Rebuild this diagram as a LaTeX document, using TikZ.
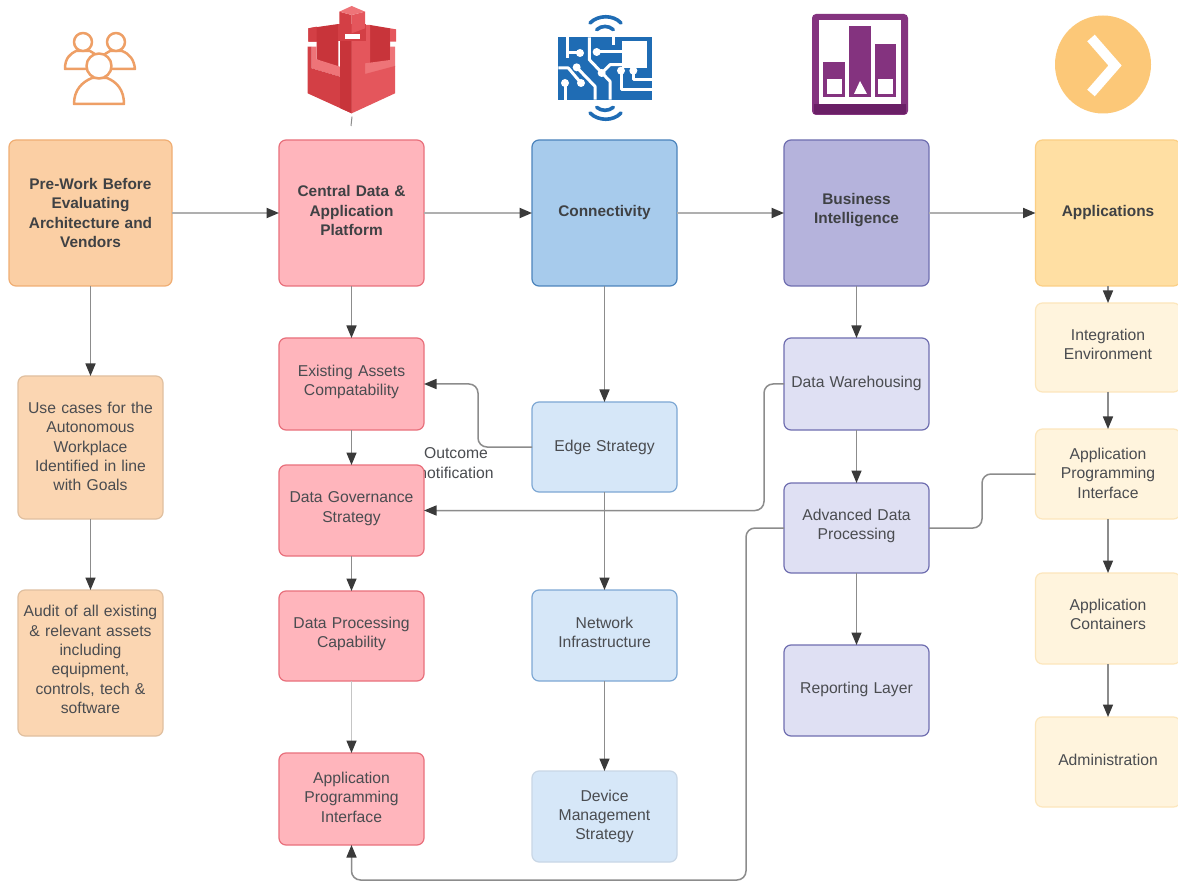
\documentclass[tikz,border=0pt]{standalone}
\usepackage{fontspec}
\setmainfont{Liberation Sans}
\usetikzlibrary{arrows.meta}
\definecolor{ink}{HTML}{4A4C50}
\definecolor{lineg}{HTML}{8C8C8C}
\definecolor{tipg}{HTML}{3A3A3A}
\tikzset{
  box/.style={draw,rounded corners=7pt,line width=1.2pt,align=center,text=ink,inner sep=2pt,outer sep=0pt,
     font=\fontsize{15.7}{19.4}\selectfont,minimum width=145pt,text width=138pt},
  head/.style={box,font=\fontsize{15.4}{19.4}\selectfont\bfseries,text=ink!85!black},
  up/.style={execute at end node={\par\nointerlineskip\vbox to #1pt{}}},
  orangeh/.style={head,fill=orangeF,draw=orangeD},
  orangel/.style={box,fill=orangeL,draw=orangeM},
  redbox/.style={box,fill=redF,draw=redD},
  redh/.style={head,fill=redF,draw=redD},
  blueh/.style={head,fill=blueF,draw=blueD},
  bluel/.style={box,fill=blueL,draw=blueM},
  purpleh/.style={head,fill=purpF,draw=purpD},
  purplel/.style={box,fill=purpL,draw=purpD},
  yellowh/.style={head,fill=yelF,draw=yelD},
  yellowl/.style={box,fill=yelL,draw=yelM},
  conn/.style={draw=lineg,line width=1.5pt},
  arr/.style={conn,-{Triangle[length=12.5pt,width=10pt,color=tipg]}},
  flow/.style={arr,draw=lineg!70,line width=2pt},
  elbow/.style={rounded corners=9pt},
  trace/.style={draw=white,line width=3pt,line join=round},
  tdot/.style={fill=white,draw=none},
  person/.style={draw=peopleC,line width=2.5pt,line join=round,fill=white},
}
\definecolor{orangeF}{HTML}{FBCFA4}\definecolor{orangeD}{HTML}{F0AE74}
\definecolor{orangeL}{HTML}{FBD6B2}\definecolor{orangeM}{HTML}{E0C0A0}
\definecolor{redF}{HTML}{FFB5BC}\definecolor{redD}{HTML}{E8707C}
\definecolor{blueF}{HTML}{A7CBEC}\definecolor{blueD}{HTML}{4C84BC}
\definecolor{blueL}{HTML}{D6E7F8}\definecolor{blueM}{HTML}{7EA8D4}
\definecolor{purpF}{HTML}{B5B3DC}\definecolor{purpD}{HTML}{6F6EB0}
\definecolor{purpL}{HTML}{DFE0F3}
\definecolor{yelF}{HTML}{FFDFA3}\definecolor{yelD}{HTML}{FBCF85}
\definecolor{yelL}{HTML}{FFF4DD}\definecolor{yelM}{HTML}{FCE6BC}
\definecolor{peopleC}{HTML}{EE9F66}
\definecolor{cDark}{HTML}{C8343A}\definecolor{cMid}{HTML}{E4565C}\definecolor{cLight}{HTML}{EE7478}\definecolor{cDeep}{HTML}{D33F45}
\definecolor{cirB}{HTML}{1F6CB4}
\definecolor{barP}{HTML}{84337F}\definecolor{barD}{HTML}{6A1F66}
\definecolor{cirY}{HTML}{FCC878}
\begin{document}
\begin{tikzpicture}[x=1pt,y=-1pt]
\useasboundingbox (0,0) rectangle (1178,882);
\fill[white] (0,0) rectangle (1178,882);

% label under the Data Governance box
\node[text=ink,align=center,font=\fontsize{15.7}{20}\selectfont,inner sep=0pt] (outcome) at (456,463) {Outcome\\notification};

% column 1
\node[orangeh,minimum width=163pt,minimum height=146pt,text width=140pt] (pre) at (90.5,213) {Pre-Work Before\\Evaluating\\Architecture and\\Vendors};
\node[orangel,minimum height=143pt,up=2] (use) at (90.5,447.5) {Use cases for the\\Autonomous\\Workplace\\Identified in line\\with Goals};
\node[orangel,minimum height=146pt,up=7] (audit) at (90.5,663) {Audit of all existing\\\& relevant assets\\including\\equipment,\\controls, tech \&\\software};
% column 2
\node[redh,minimum height=146pt,up=5] (central) at (351.5,213) {Central Data \&\\Application\\Platform};
\node[redbox,minimum height=92pt,up=4] (exist) at (351.5,384) {Existing Assets\\Compatability};
\node[redbox,minimum height=91pt,up=4] (gov) at (351.5,510.5) {Data Governance\\Strategy};
\node[redbox,minimum height=90pt,up=4] (proc) at (351.5,636) {Data Processing\\Capability};
\node[redbox,minimum height=92pt,up=4] (api) at (351.5,799) {Application\\Programming\\Interface};
% column 3
\node[blueh,minimum height=146pt] (conn) at (604.5,213) {Connectivity};
\node[bluel,minimum height=90pt] (edge) at (604.5,447) {Edge Strategy};
\node[bluel,minimum height=91pt,up=6] (net) at (604.5,635.5) {Network\\Infrastructure};
\node[bluel,draw=blueL!85!gray,minimum height=91pt] (device) at (604.5,816.5) {Device\\Management\\Strategy};
% column 4
\node[purpleh,minimum height=146pt,up=6] (bi) at (856.5,213) {Business\\Intelligence};
\node[purplel,minimum height=92pt,up=2] (dw) at (856.5,384) {Data Warehousing};
\node[purplel,minimum height=90pt,up=4] (adp) at (856.5,528) {Advanced Data\\Processing};
\node[purplel,minimum height=91pt,up=2] (rep) at (856.5,690.5) {Reporting Layer};
% column 5
\node[yellowh,minimum height=146pt] (apps) at (1108,213) {Applications};
\node[yellowl,minimum height=89pt,up=6] (integ) at (1108,347.5) {Integration\\Environment};
\node[yellowl,minimum height=90pt,up=2] (api2) at (1108,474) {Application\\Programming\\Interface};
\node[yellowl,minimum height=91pt,up=8] (cont) at (1108,618.5) {Application\\Containers};
\node[yellowl,minimum height=90pt,up=4] (admin) at (1108,762) {Administration};

% horizontal flow
\draw[flow] (pre) -- (central);
\draw[flow] (central) -- (conn);
\draw[flow] (conn) -- (bi);
\draw[flow] (bi) -- (apps);
% vertical flow
\draw[arr] (pre) -- (use);
\draw[arr] (use) -- (audit);
\draw[arr] (central) -- (exist);
\draw[arr] (exist) -- (gov);
\draw[arr] (gov) -- (proc);
\draw[arr,draw=lineg!50] (proc) -- (api);
\draw[arr] (conn) -- (edge);
\draw[arr] (edge) -- (net);
\draw[arr] (net) -- (device);
\draw[arr] (bi) -- (dw);
\draw[arr] (dw) -- (adp);
\draw[arr] (adp) -- (rep);
\draw[arr] (apps) -- (integ);
\draw[arr] (integ) -- (api2);
\draw[arr] (api2) -- (cont);
\draw[arr] (cont) -- (admin);
% elbows
\coordinate (e1) at (478,420);
\coordinate (e2) at (764,450);
\coordinate (e3) at (982,500);
\coordinate (e4) at (746,700);
\coordinate (e5) at (500,880);
\draw[arr,elbow] (edge.west) -| (e1) |- (exist.east);
\draw[arr,elbow] (dw.west) -| (e2) |- (gov.east);
\draw[conn,elbow] (api2.west) -| (e3) |- (adp.east);
\draw[arr,elbow] (adp.west) -| (e4) |- (e5) -| (api.south);

% people icon
\draw[person] (65,69) .. controls (65,58) and (70,54) .. (76,51) -- (90,51) .. controls (96,54) and (100,58) .. (102,69) -- cycle;
\draw[person] (97,69) .. controls (99,58) and (104,54) .. (110,51) -- (122,51) .. controls (130,54) and (134,60) .. (135,69) -- cycle;
\draw[person] (83,42) circle (9pt);
\draw[person] (116,42) circle (9pt);
\draw[person] (74,104) .. controls (74,90) and (82,82) .. (92,78) -- (107,78) .. controls (117,82) and (124,90) .. (124,104) -- cycle;
\draw[person] (99,66) circle (12.5pt);

% castle icon
\begin{scope}[shift={(295,0)},x=1pt/3,y=-1pt/3]
\fill[cDark] (40,85) -- (130,72) -- (130,205) -- (65,178) -- (65,125) -- (40,125) -- cycle;
\fill[cDeep] (40,85) -- (65,80) -- (65,125) -- (40,125) -- cycle;
\fill[cDark] (225,75) -- (285,85) -- (285,185) -- (225,190) -- cycle;
\fill[cMid] (285,85) -- (303,88) -- (303,125) -- (285,125) -- cycle;
\fill[cMid] (210,75) -- (225,75) -- (225,190) -- (210,200) -- cycle;
\fill[cLight] (50,140) -- (65,140) -- (65,178) -- (135,200) -- (135,230) -- (50,205) -- cycle;
\fill[cLight] (210,190) -- (285,180) -- (285,140) -- (300,140) -- (300,200) -- (210,225) -- cycle;
\fill[cDeep] (38,140) -- (50,140) -- (50,205) -- (135,230) -- (135,120) -- (170,120) -- (170,340) -- (38,280) -- cycle;
\fill[cMid] (170,120) -- (210,120) -- (210,222) -- (300,198) -- (300,280) -- (170,340) -- cycle;
\fill[cDark] (135,120) -- (170,120) -- (170,340) -- (135,324) -- cycle;
\fill[cDeep] (128,72) rectangle (212,124);
\fill[white] (150,102) rectangle (195,118);
\fill[cDeep] (133,35) -- (170,45) -- (170,100) -- (133,85) -- cycle;
\fill[cMid] (170,45) -- (210,35) -- (210,85) -- (170,100) -- cycle;
\fill[cLight] (133,35) -- (170,18) -- (210,35) -- (170,45) -- cycle;
\draw[lineg,line width=1pt] (171,350) -- (168,378);
\end{scope}

% circuit icon
\begin{scope}[shift={(545,8)},x=1pt/3,y=-1pt/3]
\fill[cirB] (40,88) rectangle (320,275);
\fill[white] (232,98) rectangle (305,180);
\draw[trace] (68,88) -- (68,150);
\draw[trace] (68,135) -- (105,135);
\draw[trace] (133,88) -- (133,155) -- (195,220) -- (195,275);
\draw[trace] (155,132) -- (232,132);
\draw[trace] (205,88) -- (205,110);
\draw[trace] (170,195) -- (195,170) -- (232,170);
\draw[trace] (95,178) -- (150,235) -- (150,275);
\draw[trace] (40,180) -- (70,180) -- (108,225);
\draw[trace] (60,225) -- (60,275);
\draw[trace] (228,188) -- (228,245) -- (320,245);
\draw[trace] (265,188) -- (265,215) -- (320,215);
\foreach \p in {(105,135),(155,132),(170,195),(95,178),(108,225),(60,225),(228,188),(265,188)}
  \fill[tdot] \p circle (12);
\draw[cirB,line width=3.6pt,line cap=round] (135,45) .. controls (160,20) and (205,20) .. (228,45);
\draw[cirB,line width=3.6pt,line cap=round] (155,65) .. controls (170,52) and (190,52) .. (205,65);
\draw[cirB,line width=3.6pt,line cap=round] (155,298) .. controls (170,310) and (190,310) .. (205,298);
\draw[cirB,line width=3.6pt,line cap=round] (135,315) .. controls (160,340) and (205,340) .. (228,315);
\end{scope}

% bar icon
\fill[barP,rounded corners=4pt] (812,14) rectangle (908,115);
\fill[barD] (814,104) rectangle (906,114);
\fill[white] (819,20) rectangle (901,104);
\fill[barP] (823,62) rectangle (845,97);
\fill[barP] (849,26) rectangle (871,97);
\fill[barP] (875,44) rectangle (896,97);
\fill[white] (827,79) rectangle (842,94);
\fill[white] (860,81) -- (867,94) -- (854,94) -- cycle;
\fill[white] (878,79) rectangle (893,94);

% chevron icon
\fill[cirY] (1103,64.5) ellipse (48pt and 49pt);
\draw[white,line width=10pt] (1091,38) -- (1115,65.5) -- (1091,93);
\end{tikzpicture}
\end{document}
